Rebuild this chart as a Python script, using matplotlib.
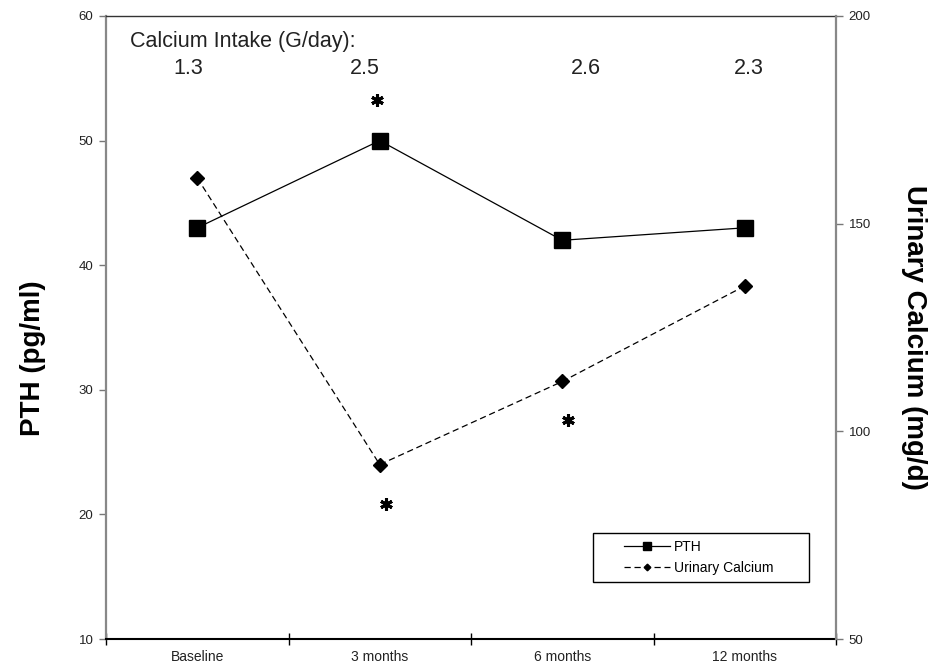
import matplotlib
matplotlib.use('Agg')
import matplotlib.pyplot as plt
from matplotlib.patches import Rectangle
from matplotlib.transforms import offset_copy

# study visits and the two measured series
categories = ['Baseline', '3 months', '6 months', '12 months']
pth = [43, 50, 42, 43]                 # pg/ml, left axis
urinary_ca = [161, 92, 112, 135]       # mg/d, right axis
intake = ['1.3', '2.5', '2.6', '2.3']  # calcium intake, G/day

# significant changes vs baseline: (series, visit index)
signif = [('pth', 1), ('uca', 1), ('uca', 2)]

W, H = 952, 669
plt.rcParams['font.family'] = ['Liberation Sans', 'DejaVu Sans']

fig = plt.figure(figsize=(W / 100, H / 100), dpi=100)
ax = fig.add_axes([106 / W, 1 - 639 / H, 730 / W, 623 / H])
ax2 = ax.twinx()

x = list(range(len(categories)))
l1, = ax.plot(x, pth, color='k', lw=0.9, marker='s', ms=12, label='PTH')
l2, = ax2.plot(x, urinary_ca, color='k', lw=0.9, ls=(0, (5, 3)),
               marker='D', ms=7.5, label='Urinary Calcium')

ax.set_xlim(-0.5, 3.5)
ax.set_ylim(10, 60)
ax2.set_ylim(50, 200)
ax.set_yticks([10, 20, 30, 40, 50, 60])
ax2.set_yticks([50, 100, 150, 200])

# category labels sit between the boundary ticks
ax.set_xticks([i - 0.5 for i in range(len(categories) + 1)])
ax.set_xticklabels([])
ax.set_xticks(x, minor=True)
ax.set_xticklabels(categories, minor=True)
ax.tick_params(axis='x', which='major', direction='inout', length=8, width=1)
ax.tick_params(axis='x', which='minor', length=0, pad=8, labelsize=10,
               labelcolor='#222222')
ax.tick_params(axis='y', direction='out', length=5, width=1, pad=4,
               labelsize=9.5, labelcolor='#222222', color='#777777')
ax2.tick_params(axis='y', direction='out', length=5, width=1, pad=4,
                labelsize=9.5, labelcolor='#222222', color='#777777')

# spines
ax.spines['left'].set_color('#888888')
ax.spines['left'].set_linewidth(1.6)
ax.spines['bottom'].set_linewidth(1.5)
ax.spines['top'].set_linewidth(1.0)
ax.spines['top'].set_color('#333333')
ax.spines['right'].set_visible(False)
for s in ['left', 'top', 'bottom']:
    ax2.spines[s].set_visible(False)
ax2.spines['right'].set_color('#888888')
ax2.spines['right'].set_linewidth(1.6)

# asterisks for significance
for series, i in signif:
    if series == 'pth':
        tr = offset_copy(ax.transData, fig=fig, x=-3, y=41, units='dots')
        yv = pth[i]
    else:
        tr = offset_copy(ax2.transData, fig=fig, x=6, y=-39, units='dots')
        yv = urinary_ca[i]
    ax2.plot([i], [yv], transform=tr, marker=(6, 2, 0), ms=9, mew=2.2,
             color='k', ls='none')

# calcium intake header
ax.text(24 / 730, 1 - 26 / 623, 'Calcium Intake (G/day):', transform=ax.transAxes,
        ha='left', va='center', fontsize=15.5, color='#222222')
intake_dx = [-9, -15, 24, 4]
for i, lab in enumerate(intake):
    tr = offset_copy(ax.get_xaxis_transform(), fig=fig, x=intake_dx[i], y=0,
                     units='dots')
    ax.text(i, 1 - 52 / 623, lab, transform=tr, ha='center', va='center',
            fontsize=15.5, color='#222222')

# axis titles
fig.text(33 / W, 1 - 358 / H, 'PTH (pg/ml)', rotation=90, ha='center',
         va='center', fontsize=20, fontweight='bold')
fig.text(914 / W, 1 - 337 / H, 'Urinary Calcium (mg/d)', rotation=270,
         ha='center', va='center', fontsize=20, fontweight='bold')

# legend with a plain box around it
ax2.legend([l1, l2], ['PTH', 'Urinary Calcium'], loc='center left',
           bbox_to_anchor=(617 / W, 1 - 557.5 / H), bbox_transform=fig.transFigure,
           frameon=False, borderpad=0, handlelength=3.3, handletextpad=0.3,
           labelspacing=0.55, fontsize=10, markerscale=0.45)
fig.add_artist(Rectangle((593 / W, 1 - 582 / H), 216 / W, 49 / H,
                         transform=fig.transFigure, fill=False, ec='k', lw=1))

fig.savefig('out.png', dpi=100)
